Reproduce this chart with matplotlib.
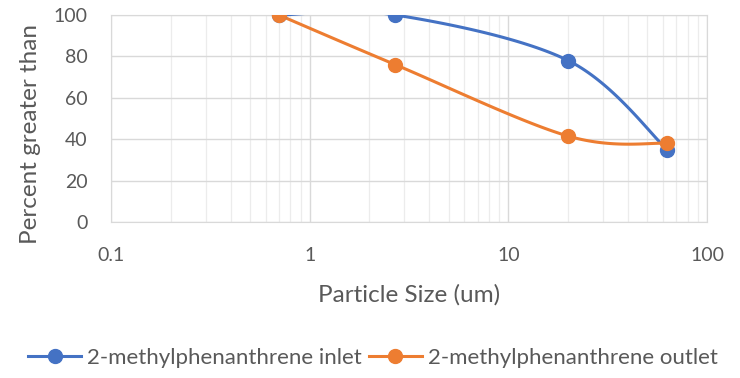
import numpy as np
import matplotlib.pyplot as plt
from matplotlib.ticker import LogLocator, FixedLocator, FuncFormatter

plt.rcParams['font.family'] = ['Lato', 'DejaVu Sans']

particle_size = [0.7, 2.7, 20, 63]
inlet = [100, 100, 78, 35]
outlet = [100, 76, 41.5, 38]
series_names = ['2-methylphenanthrene inlet', '2-methylphenanthrene outlet']
colors = ['#4472C4', '#ED7D31']
x_ticks = [0.1, 1, 10, 100]
y_ticks = [0, 20, 40, 60, 80, 100]
TEXT = '#595959'


def smooth_xy(ax, xs, ys, n=40):
    """Excel-style smoothed line: cardinal spline in display space."""
    pts = ax.transData.transform(np.column_stack([xs, ys]))
    out = [pts[0]]
    m = len(pts)
    for i in range(m - 1):
        p0 = pts[i - 1] if i > 0 else pts[i]
        p1, p2 = pts[i], pts[i + 1]
        p3 = pts[i + 2] if i + 2 < m else pts[i + 1]
        c1 = p1 + (p2 - p0) / 6
        c2 = p2 - (p3 - p1) / 6
        t = np.linspace(0, 1, n)[1:, None]
        seg = ((1 - t) ** 3) * p1 + 3 * ((1 - t) ** 2) * t * c1 + 3 * (1 - t) * t ** 2 * c2 + t ** 3 * p2
        out.extend(seg)
    out = ax.transData.inverted().transform(np.array(out))
    return out[:, 0], out[:, 1]


fig = plt.figure(figsize=(7.4, 3.78), dpi=100)
ax = fig.add_axes([111 / 740, 1 - 222 / 378, (707 - 111) / 740, (222 - 15) / 378])
ax.set_xscale('log')
ax.set_xlim(0.1, 100)
ax.set_ylim(0, 100)

ax.xaxis.set_major_locator(FixedLocator(x_ticks))
ax.xaxis.set_major_formatter(FuncFormatter(lambda v, p: f'{v:g}'))
ax.xaxis.set_minor_locator(LogLocator(base=10, subs=np.arange(2, 10)))
ax.xaxis.set_minor_formatter(FuncFormatter(lambda v, p: ''))
ax.set_yticks(y_ticks)

ax.grid(which='major', color='#d9d9d9', lw=1.0)
ax.grid(which='minor', axis='x', color='#ececec', lw=0.9)
ax.set_axisbelow(True)
for s in ax.spines.values():
    s.set_color('#d9d9d9')
ax.tick_params(which='both', length=0, labelsize=14, colors=TEXT)
ax.tick_params(axis='x', pad=18)
ax.tick_params(axis='y', pad=17)

fig.canvas.draw()
for ys, c, name in zip([inlet, outlet], colors, series_names):
    sx, sy = smooth_xy(ax, particle_size, ys)
    ax.plot(sx, sy, color=c, lw=2.2, solid_capstyle='round', zorder=3)
    ax.plot(particle_size, ys, 'o', color=c, ms=10, zorder=4)
    ax.plot([], [], '-o', color=c, lw=2.2, ms=10, label=name)

ax.set_xlabel('Particle Size (um)', fontsize=17.5, color=TEXT)
ax.xaxis.label.set_va('center')
ax.xaxis.set_label_coords(0.5, (222 - 295) / 207)
ax.set_ylabel('Percent greater than', fontsize=17.5, color=TEXT)
ax.yaxis.label.set_va('center')
ax.yaxis.set_label_coords((31 - 111) / 596, (222 - 134) / 207)

fig.legend(loc='center', bbox_to_anchor=(373 / 740, 1 - 358 / 378), ncol=2, frameon=False,
           fontsize=16, labelcolor=TEXT, handlelength=2.4, handletextpad=0.27,
           columnspacing=0.3)

plt.savefig('out.png', dpi=100)
